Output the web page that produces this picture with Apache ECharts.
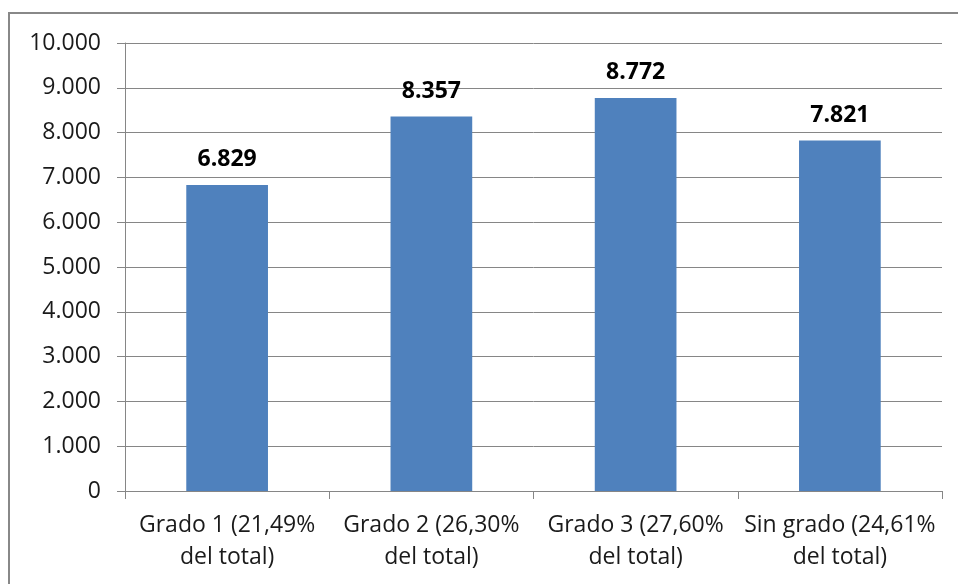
<!DOCTYPE html>
<html><head><meta charset="utf-8">
<script src="https://cdn.jsdelivr.net/npm/echarts@6/dist/echarts.min.js"></script>
<style>html,body{margin:0;padding:0;background:#fff}#c{width:958px;height:584px}</style>
</head><body><div id="c"></div>
<script>
const categories = ['Grado 1 (21,49%\ndel total)', 'Grado 2 (26,30%\ndel total)', 'Grado 3 (27,60%\ndel total)', 'Sin grado (24,61%\ndel total)'];
const values = [6829, 8357, 8772, 7821];
const yTicks = {min: 0, max: 10000, interval: 1000};

const FONT = "'Open Sans', sans-serif";
function fmt(v){ return String(v).replace(/\B(?=(\d{3})+(?!\d))/g, '.'); }
const chart = echarts.init(document.getElementById('c'), null, {renderer:'canvas'});
chart.setOption({
  animation: false,
  backgroundColor: '#fff',
  graphic: [{type:'rect', shape:{x:9, y:13, width:980, height:600}, style:{fill:'none', stroke:'#888', lineWidth:2}, silent:true}],
  grid: {left:125, right:16, top:43, bottom:93},
  xAxis: {
    type:'category', data: categories,
    axisLine:{lineStyle:{color:'#868686', width:1}},
    axisTick:{show:true, length:8, lineStyle:{color:'#868686'}},
    axisLabel:{color:'#1a1a1a', fontSize:23, fontFamily:FONT, lineHeight:32, margin:18, interval:0}
  },
  yAxis: {
    type:'value', min:yTicks.min, max:yTicks.max, interval:yTicks.interval,
    axisLine:{show:true, lineStyle:{color:'#868686'}},
    axisTick:{show:true, length:8, lineStyle:{color:'#868686'}},
    splitLine:{lineStyle:{color:'#868686', width:1}},
    axisLabel:{color:'#1a1a1a', fontSize:23, fontFamily:FONT, margin:24, formatter: fmt}
  },
  series: [{
    type:'bar', data: values, barCategoryGap:'60%',
    itemStyle:{color:'#4F81BD'},
    label:{show:true, position:'top', distance:14, color:'#000', fontWeight:'bold', fontSize:23, fontFamily:FONT, formatter: p => fmt(p.value)}
  }]
});
</script></body></html>
